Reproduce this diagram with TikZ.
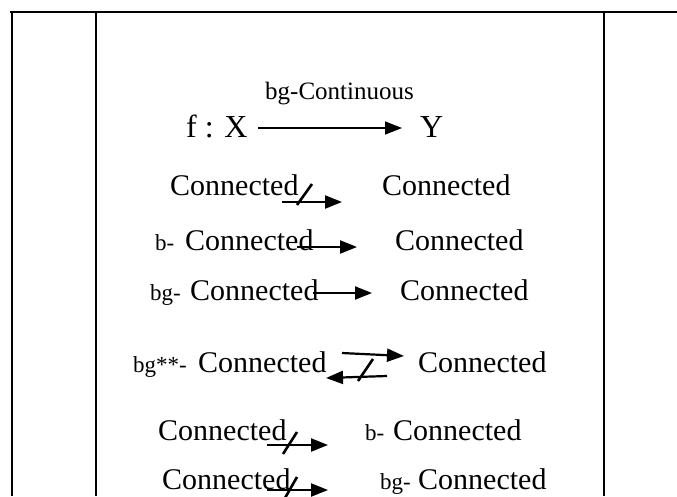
\documentclass[tikz,border=0pt]{standalone}
\usepackage{fontspec}
\setmainfont{Liberation Serif}
\usetikzlibrary{arrows.meta}
\begin{document}
\begin{tikzpicture}[x=1pt,y=-1pt,
  txt/.style={inner sep=0pt, anchor=base west, font=\fontsize{30}{36}\selectfont},
  pre/.style={inner sep=0pt, anchor=base west, font=\fontsize{23}{28}\selectfont},
  head/.style={inner sep=0pt, anchor=base west, font=\fontsize{32}{38}\selectfont},
  lbl/.style={inner sep=0pt, anchor=base west, font=\fontsize{25}{30}\selectfont},
  frame/.style={line width=1.6pt},
  imp/.style={line width=2.2pt, -{Triangle[length=17pt,width=13pt]}},
  mapto/.style={line width=1.6pt, -{Triangle[length=17pt,width=13pt]}},
  cross/.style={line width=2.6pt}]
\useasboundingbox (0,0) rectangle (677,496);
\clip (0,0) rectangle (677,496);

% table frame
\draw[frame] (10,12) -- (677,12);
\draw[frame] (12,12) -- (12,496);
\draw[frame] (96,12) -- (96,496);
\draw[frame] (604,12) -- (604,496);

% f : X --> Y
\node[head] (fx) at (186,137) {f : X};
\node[head] (y) at (420,137) {Y};
\coordinate (m0) at (258,128);
\coordinate (m1) at (402,128);
\draw[mapto] (m0) -- (m1);
\node[lbl] (bgc) at (265,99) {bg-Continuous};

% row 1
\node[txt] (l1) at (170,195) {Connected};
\node[txt] (r1) at (382,195) {Connected};
\coordinate (a1s) at (282,202); \coordinate (a1e) at (342,202);
\draw[imp] (a1s) -- (a1e);
\coordinate (s1a) at (297,205); \coordinate (s1b) at (312,184);
\draw[cross] (s1a) -- (s1b);

% row 2
\node[pre] (p2) at (155,250) {b-};
\node[txt] (l2) at (185,250) {Connected};
\node[txt] (r2) at (395,250) {Connected};
\coordinate (a2s) at (297,247); \coordinate (a2e) at (357,247);
\draw[imp] (a2s) -- (a2e);

% row 3
\node[pre] (p3) at (150,300) {bg-};
\node[txt] (l3) at (190,300) {Connected};
\node[txt] (r3) at (400,300) {Connected};
\coordinate (a3s) at (313,293); \coordinate (a3e) at (372,293);
\draw[imp] (a3s) -- (a3e);

% row 4
\node[pre] (p4) at (133,372) {bg**-};
\node[txt] (l4) at (198,372) {Connected};
\node[txt] (r4) at (418,372) {Connected};
\coordinate (a4s) at (342,353); \coordinate (a4e) at (404,356);
\draw[imp] (a4s) -- (a4e);
\coordinate (b4s) at (387,376); \coordinate (b4e) at (326,378);
\draw[imp] (b4s) -- (b4e);
\coordinate (s4a) at (358,381); \coordinate (s4b) at (373,359);
\draw[cross] (s4a) -- (s4b);

% row 5
\node[txt] (l5) at (158,440) {Connected};
\node[pre] (p5) at (365,440) {b-};
\node[txt] (r5) at (393,440) {Connected};
\coordinate (a5s) at (267,445); \coordinate (a5e) at (328,445);
\draw[imp] (a5s) -- (a5e);
\coordinate (s5a) at (283,454); \coordinate (s5b) at (297,432);
\draw[cross] (s5a) -- (s5b);

% row 6
\node[txt] (l6) at (162,489) {Connected};
\node[pre] (p6) at (380,489) {bg-};
\node[txt] (r6) at (418,489) {Connected};
\coordinate (a6s) at (267,490); \coordinate (a6e) at (328,490);
\draw[imp] (a6s) -- (a6e);
\coordinate (s6a) at (285,498); \coordinate (s6b) at (297,477);
\draw[cross] (s6a) -- (s6b);
\end{tikzpicture}
\end{document}
